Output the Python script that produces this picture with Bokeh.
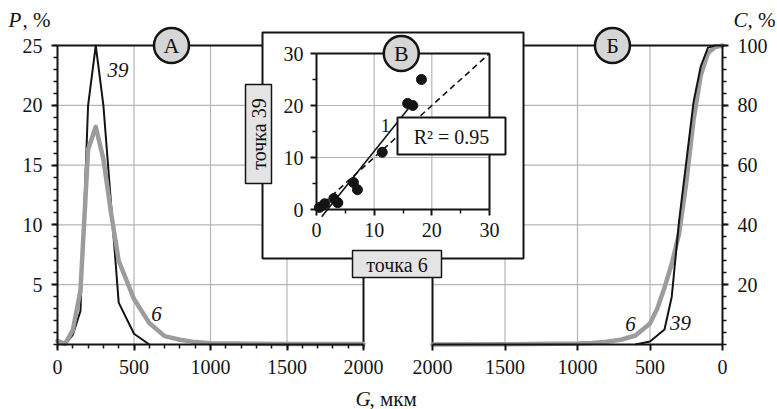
import numpy as np
from bokeh.plotting import figure
from bokeh.models import Range1d, LinearAxis, FixedTicker
from bokeh.core.properties import value
from bokeh.embed import file_html
from bokeh.resources import INLINE

# ---------------- data ----------------
# panel A: differential distribution P, % vs G, mkm
G_P39 = [50, 100, 150, 200, 250, 300, 400, 500, 600]
P39 = [0, 0.8, 2.8, 20, 25, 20, 3.5, 0.9, 0]
G_P6 = [0, 50, 100, 150, 200, 250, 300, 350, 400, 500, 600, 700, 800, 900, 1000, 1500, 2000]
P6 = [0.3, 0.05, 1.2, 4.5, 16.3, 18.2, 15.5, 11, 7, 3.8, 1.8, 0.7, 0.4, 0.2, 0.1, 0.05, 0.05]
# panel Б: cumulative C, % vs G, mkm
G_C39 = [600, 500, 400, 350, 300, 250, 200, 150, 100, 50, 0]
C39 = [0, 1, 5, 16, 41, 61, 81, 93, 99.3, 100, 100]
G_C6 = [2000, 1500, 1000, 900, 800, 700, 600, 500, 450, 400, 350, 300, 250, 200, 150, 100, 50, 0]
C6 = [0, 0.1, 0.3, 0.5, 0.9, 1.6, 3, 7, 12, 19, 27, 37, 54, 75, 90, 97.5, 99.5, 100]
# panel В: точка 6 vs точка 39
X6 = [0.5, 1.4, 3.0, 3.7, 6.4, 7.1, 11.4, 15.8, 16.7, 18.2]
Y39 = [0.4, 1.1, 2.1, 1.3, 5.2, 3.8, 11.0, 20.4, 20.0, 25.0]
FIT_X = [0.9, 16.5]
R2 = 0.95

G_TICKS = [0, 500, 1000, 1500, 2000]
G_MINOR = list(range(0, 2001, 100))
G_GRID = [500, 1000, 1500]
P_TICKS = [5, 10, 15, 20, 25]
P_MINOR = list(range(0, 26))
P_GRID = [5, 10, 15, 20]
C_TICKS = [20, 40, 60, 80, 100]
C_MINOR = list(range(0, 101, 4))
C_GRID = [20, 40, 60, 80]
I_TICKS = [0, 10, 20, 30]
I_MINOR = [5, 15, 25]
I_GRID = [10, 20]

# ---------------- layout ----------------
W, H = 777, 409
BLACK = "#141414"
GRAY = "#9c9c9c"
GRIDC = "#b5b5b5"
BOXF = "#e4e4e4"
CIRF = "#d6d6d6"
FONT = "Liberation Serif"


def make_range(v0, p0, v1, p1, size, vertical=False):
    k = (v1 - v0) / (p1 - p0)
    at = lambda px: v0 + (px - p0) * k
    if vertical:
        return Range1d(start=at(size), end=at(0))
    return Range1d(start=at(0), end=at(size))


p = figure(width=W, height=H, output_backend="svg", toolbar_location=None,
           x_axis_type=None, y_axis_type=None, min_border=0,
           x_range=make_range(0, 57, 2000, 363, W),
           y_range=make_range(0, 344, 25, 45, H, True))
p.min_border_left = p.min_border_right = p.min_border_top = p.min_border_bottom = 0
p.outline_line_color = None
p.background_fill_color = "white"
p.border_fill_color = "white"
p.extra_x_ranges = {
    "right": make_range(2000, 432, 0, 722, W),
    "ix": make_range(0, 316, 30, 489, W),
    "px": Range1d(0, W),
}
p.extra_y_ranges = {
    "C": make_range(0, 344, 100, 45, H, True),
    "iy": make_range(0, 209, 30, 53, H, True),
    "px": Range1d(H, 0),
}

R = dict(x_range_name="right", y_range_name="C")
I = dict(x_range_name="ix", y_range_name="iy")
PX = dict(x_range_name="px", y_range_name="px")

# ---- grids of main panels ----
p.segment(x0=G_GRID, y0=[0] * 3, x1=G_GRID, y1=[25] * 3, line_color=GRIDC, line_width=1.2)
p.segment(x0=[0] * 4, y0=P_GRID, x1=[2000] * 4, y1=P_GRID, line_color=GRIDC, line_width=1.2)
p.segment(x0=G_GRID, y0=[0] * 3, x1=G_GRID, y1=[100] * 3, line_color=GRIDC, line_width=1.2, **R)
p.segment(x0=[0] * 4, y0=C_GRID, x1=[2000] * 4, y1=C_GRID, line_color=GRIDC, line_width=1.2, **R)

# ---- borders of main panels ----
p.segment(x0=[0, 2000], y0=[25, 0], x1=[2000, 2000], y1=[25, 25], line_color=BLACK, line_width=2)
p.segment(x0=[0, 2000], y0=[100, 0], x1=[2000, 2000], y1=[100, 100], line_color=BLACK, line_width=2, **R)

# ---- curves ----
p.line(G_P39, P39, line_color=BLACK, line_width=2, line_join="round")
p.line(G_P6, P6, line_color=GRAY, line_width=4.5, line_join="round", line_cap="round")
p.line(G_C6, C6, line_color=GRAY, line_width=4.5, line_join="round", line_cap="round", **R)
p.line(G_C39, C39, line_color=BLACK, line_width=2, line_join="round", **R)

txt = dict(text_font=value(FONT), text_color=BLACK)
p.text(x=[395, 647], y=[22.95, 2.55], text=["39", "6"], text_font_style="italic",
       text_font_size=value("21px"), text_align="center", text_baseline="middle", **txt)
p.text(x=[634, 290], y=[6.9, 7.2], text=["6", "39"], text_font_style="italic",
       text_font_size=value("21px"), text_align="center", text_baseline="middle", **txt, **R)

# ---- inset panel ----
p.quad(left=[262], right=[523], top=[32], bottom=[258], fill_color="white",
       line_color=BLACK, line_width=2, **PX)
p.segment(x0=I_GRID, y0=[0, 0], x1=I_GRID, y1=[30, 30], line_color=GRIDC, line_width=1.2, **I)
p.segment(x0=[0, 0], y0=I_GRID, x1=[30, 30], y1=I_GRID, line_color=GRIDC, line_width=1.2, **I)
p.segment(x0=[0, 30], y0=[30, 0], x1=[30, 30], y1=[30, 30], line_color=BLACK, line_width=2, **I)
p.line([0, 30], [0, 30], line_color=BLACK, line_width=1.6, line_dash="6 4", **I)
coef = np.polyfit(X6, Y39, 1)
p.line(FIT_X, list(np.polyval(coef, FIT_X)), line_color=BLACK, line_width=1.6, **I)
p.scatter(X6, Y39, size=10, fill_color=BLACK, line_color=BLACK, **I)

# ---- label boxes ----
p.quad(left=[245, 352], right=[271, 441], top=[84, 250], bottom=[183, 277],
       fill_color=BOXF, line_color=BLACK, line_width=1.5, **PX)
p.text(x=[258.5], y=[133.5], text=["точка 39"], angle=np.pi / 2, text_font_size=value("20px"),
       text_align="center", text_baseline="middle", **txt, **PX)
p.text(x=[396.5], y=[264], text=["точка 6"], text_font_size=value("20px"),
       text_align="center", text_baseline="middle", **txt, **PX)
p.text(x=[385], y=[125], text=["1"], text_font_size=value("19px"),
       text_align="center", text_baseline="middle", **txt, **PX)
p.quad(left=[397], right=[505], top=[117], bottom=[154], fill_color="white",
       line_color=BLACK, line_width=2, **PX)
p.text(x=[451], y=[136], text=["R² = %.2f" % R2], text_font_size=value("20px"),
       text_align="center", text_baseline="middle", **txt, **PX)

# ---- circle markers ----
cir = dict(size=35, fill_color=CIRF, line_color=BLACK, line_width=2.5)
ctx = dict(text_font_size=value("22px"), text_align="center", text_baseline="middle", **txt)
p.scatter([745], [25], **cir)
p.text([745], [25], text=["А"], **ctx)
p.scatter([759], [100], **cir, **R)
p.text([759], [100], text=["Б"], **ctx, **R)
p.scatter([14.7], [30], **cir, **I)
p.text([14.7], [30], text=["В"], **ctx, **I)

# ---- axis titles ----
tt = dict(text_font_size=value("21px"), text_baseline="middle", text_align="left", **txt)
p.text([8], [19], text=["P"], text_font_style="italic", **tt, **PX)
p.text([22], [19], text=[", %"], **tt, **PX)
p.text([733], [19], text=["C"], text_font_style="italic", **tt, **PX)
p.text([747], [19], text=[", %"], **tt, **PX)
p.text([355], [398], text=["G"], text_font_style="italic", **tt, **PX)
p.text([369], [398], text=[", мкм"], **tt, **PX)


# ---------------- axes ----------------
def add_axis(side, ticks, minor, bounds, loc, xr="default", yr="default", fs="20px", so=8):
    ax = LinearAxis(x_range_name=xr, y_range_name=yr, fixed_location=loc, bounds=bounds,
                    ticker=FixedTicker(ticks=ticks, minor_ticks=minor))
    ax.axis_line_color = BLACK
    ax.axis_line_width = 2
    ax.major_tick_line_color = BLACK
    ax.major_tick_line_width = 2
    ax.minor_tick_line_color = BLACK
    ax.minor_tick_line_width = 1.5
    ax.major_tick_in = 0
    ax.major_tick_out = 6
    ax.minor_tick_in = 0
    ax.minor_tick_out = 4 if minor else 0
    ax.major_label_text_font = FONT
    ax.major_label_text_font_size = fs
    ax.major_label_text_color = BLACK
    ax.major_label_standoff = so
    p.add_layout(ax, side)
    return ax


add_axis("left", P_TICKS, P_MINOR, (0, 25), 0, so=9)
add_axis("below", G_TICKS, G_MINOR, (0, 2000), 0, so=9)
add_axis("below", G_TICKS, [], (0, 2000), 0, xr="right", so=9)
add_axis("right", C_TICKS, C_MINOR, (0, 100), 0, xr="right", yr="C", so=9)
add_axis("left", I_TICKS, I_MINOR, (0, 30), 0, xr="ix", yr="iy", so=7)
add_axis("below", I_TICKS, I_MINOR, (0, 30), 0, xr="ix", yr="iy", so=7)

open("out.html", "w").write(file_html(p, INLINE))
